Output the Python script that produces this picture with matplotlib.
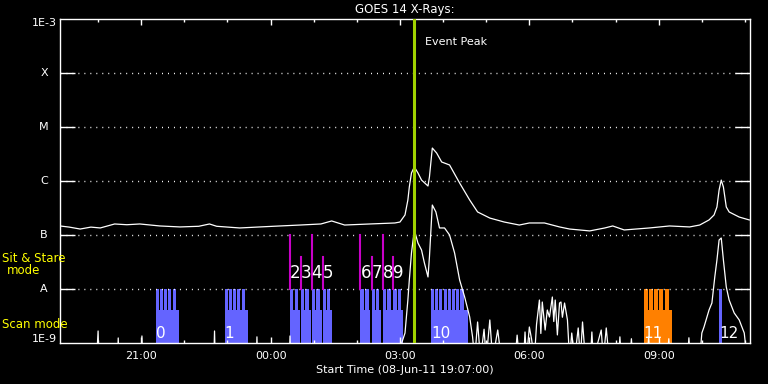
#!/usr/bin/env python3
"""GOES 14 X-ray light curve with IRIS-style raster markers."""
import matplotlib

matplotlib.use("Agg")
import matplotlib.dates as mdates
import matplotlib.pyplot as plt
import matplotlib.transforms as mtrans
import pandas as pd
from matplotlib.ticker import NullLocator

START = pd.Timestamp("2011-06-08 19:07")
END = pd.Timestamp("2011-06-09 11:07")
EVENT_PEAK = "03:20"

# GOES long channel (1-8 A), W/m^2
long_times = ["19:07", "19:20", "19:35", "19:50", "20:03", "20:23", "20:40", "20:58",
              "21:26", "21:54", "22:20", "22:35", "22:45", "23:17", "23:45", "00:13",
              "00:41", "01:10", "01:25", "01:43", "02:18", "02:53", "03:00", "03:07",
              "03:11", "03:13", "03:16", "03:20", "03:25", "03:30", "03:39", "03:41",
              "03:45", "03:51", "03:58", "04:09", "04:23", "04:37", "04:48", "05:05",
              "05:25", "05:46", "06:00", "06:21", "06:42", "06:56", "07:24", "07:45",
              "07:56", "08:12", "08:47", "09:15", "09:43", "09:57", "10:10", "10:17",
              "10:21", "10:24", "10:27", "10:30", "10:34", "10:38", "10:52", "11:06"]
long_flux = [1.47e-7, 1.40e-7, 1.29e-7, 1.40e-7, 1.35e-7, 1.60e-7, 1.55e-7, 1.60e-7,
             1.47e-7, 1.41e-7, 1.45e-7, 1.60e-7, 1.45e-7, 1.35e-7, 1.41e-7, 1.47e-7,
             1.53e-7, 1.60e-7, 1.82e-7, 1.53e-7, 1.60e-7, 1.67e-7, 1.74e-7, 2.35e-7,
             4.45e-7, 7.74e-7, 1.41e-6, 1.82e-6, 1.41e-6, 1.04e-6, 8.08e-7, 1.19e-6,
             4.08e-6, 3.30e-6, 2.25e-6, 1.98e-6, 9.18e-7, 4.45e-7, 2.67e-7, 2.06e-7,
             1.74e-7, 1.53e-7, 1.67e-7, 1.67e-7, 1.41e-7, 1.29e-7, 1.19e-7, 1.35e-7,
             1.47e-7, 1.24e-7, 1.35e-7, 1.47e-7, 1.41e-7, 1.53e-7, 1.90e-7, 2.35e-7,
             3.30e-7, 6.81e-7, 1.04e-6, 7.74e-7, 3.30e-7, 2.67e-7, 2.15e-7, 1.90e-7]

# GOES short channel (0.5-4 A), W/m^2 (values below 1E-9 sit under the axis)
short_times = ["19:07", "19:58", "20:00", "20:01", "20:27", "20:28", "20:29", "21:00",
               "21:01", "21:02", "22:41", "22:42", "22:43", "23:40", "23:41", "23:42",
               "00:26", "00:27", "00:28", "02:53", "03:00", "03:07", "03:11", "03:13",
               "03:16", "03:20", "03:25", "03:30", "03:34", "03:39", "03:41", "03:45",
               "03:50", "03:55", "04:02", "04:09", "04:16", "04:23", "04:30", "04:37",
               "04:41", "04:44", "04:48", "04:52", "04:57", "05:00", "05:05", "05:09",
               "05:16", "05:21", "05:40", "05:43", "05:46", "05:52", "05:54", "05:56",
               "06:00", "06:03", "06:07", "06:10", "06:14", "06:16", "06:18", "06:22",
               "06:25", "06:28", "06:32", "06:34", "06:36", "06:39", "06:42", "06:44",
               "06:46", "06:49", "06:53", "06:56", "06:59", "07:03", "07:08", "07:11",
               "07:14", "07:18", "07:25", "07:27", "07:29", "07:40", "07:43", "07:47",
               "07:51", "08:04", "08:06", "08:08", "08:20", "08:22", "08:24", "08:44",
               "08:46", "08:48", "09:12", "09:14", "09:16", "09:40", "09:42", "09:44",
               "09:57", "10:00", "10:03", "10:10", "10:14", "10:18", "10:21", "10:24",
               "10:27", "10:30", "10:34", "10:38", "10:45", "10:52", "10:59", "11:03",
               "11:06"]
short_flux = [5e-10, 5e-10, 1.67e-9, 5e-10, 5e-10, 1.24e-9, 5e-10, 5e-10,
              1.35e-9, 5e-10, 5e-10, 1.67e-9, 5e-10, 5e-10, 1.30e-9, 5e-10,
              5e-10, 1.35e-9, 5e-10, 5e-10, 8e-10, 1.53e-9, 6.25e-9, 1.47e-8,
              4.64e-8, 1.24e-7, 7.11e-8, 5.27e-8, 3.03e-8, 1.67e-8, 3.91e-8, 3.59e-7,
              2.67e-7, 1.35e-7, 1.35e-7, 1.00e-7, 4.64e-8, 1.47e-8, 7.11e-9, 3.03e-9,
              1.30e-9, 5e-10, 2.45e-9, 5e-10, 1.80e-9, 5e-10, 2.67e-9, 5e-10,
              1.74e-9, 5e-10, 5e-10, 1.40e-9, 5e-10, 5e-10, 1.60e-9, 5e-10,
              1.98e-9, 1.20e-9, 5e-10, 2.20e-9, 6.25e-9, 1.50e-9, 5.74e-9, 1.74e-9,
              4.08e-9, 3.03e-9, 7.11e-9, 2.50e-9, 6.25e-9, 1.41e-9, 5.50e-9, 5.74e-9,
              3.00e-9, 5.50e-9, 2.67e-9, 5e-10, 1.53e-9, 5e-10, 1.90e-9, 5e-10,
              2.45e-9, 5e-10, 5e-10, 1.60e-9, 5e-10, 1.74e-9, 5e-10, 1.90e-9,
              5e-10, 5e-10, 1.30e-9, 5e-10, 5e-10, 1.20e-9, 5e-10, 5e-10,
              1.30e-9, 5e-10, 5e-10, 1.20e-9, 5e-10, 5e-10, 1.25e-9, 5e-10,
              5e-10, 1.53e-9, 1.98e-9, 4.08e-9, 5.50e-9, 1.67e-8, 3.44e-8, 8.08e-8,
              8.80e-8, 3.44e-8, 1.09e-8, 6.25e-9, 3.60e-9, 2.67e-9, 1.53e-9, 5e-10,
              5e-10]

# raster observations
raster_label = ["0", "1", "2", "3", "4", "5", "6", "7", "8", "9", "10", "11", "12"]
raster_start = ["21:20", "22:56", "00:27", "00:42", "00:57", "01:13", "02:05", "02:21",
                "02:36", "02:51", "03:43", "08:39", "10:24"]
raster_end = ["21:52", "23:28", "00:41", "00:56", "01:11", "01:25", "02:19", "02:34",
              "02:50", "03:04", "04:34", "09:19", "10:28"]
raster_steps = [5, 5, 2, 2, 2, 2, 2, 2, 2, 2, 8, 5, 1]
raster_color = ["#6464ff"] * 11 + ["#ff8000", "#6464ff"]
# sit & stare marker top (None = scan mode)
sit_top = [None, None, 1e-7, 3.9e-8, 1e-7, 3.9e-8, 1e-7, 3.9e-8, 1e-7, 3.9e-8,
           None, None, None]

goes_levels = [1e-9, 1e-8, 1e-7, 1e-6, 1e-5, 1e-4, 1e-3]
goes_names = ["1E-9", "A", "B", "C", "M", "X", "1E-3"]


def to_num(hhmm):
    t = pd.Timestamp(f"2011-06-08 {hhmm}")
    if t.hour < 19:
        t += pd.Timedelta(days=1)
    return mdates.date2num(t.to_pydatetime())


def main():
    fig = plt.figure(figsize=(7.68, 3.84), dpi=100, facecolor="black")
    ax = fig.add_axes([60 / 768, 41 / 384, 690 / 768, 324 / 384], facecolor="black")
    ax.set_yscale("log")
    ax.set_ylim(1e-9, 1e-3)
    ax.set_xlim(mdates.date2num(START.to_pydatetime()), mdates.date2num(END.to_pydatetime()))

    base_top, stripe_top = 4.08e-9, 1e-8
    for lab, s, e, n, col, top in zip(raster_label, raster_start, raster_end,
                                      raster_steps, raster_color, sit_top):
        x0, x1 = to_num(s), to_num(e)
        w = x1 - x0
        ax.bar(x0, base_top - 1e-9, width=w, bottom=1e-9, align="edge", color=col, lw=0)
        cell = w * (0.92 if n > 1 else 1.0) / n
        for k in range(n):
            ax.bar(x0 + k * cell, stripe_top - 1e-9, width=cell * (0.75 if n > 1 else 1.0),
                   bottom=1e-9, align="edge", color=col, lw=0)
        if top is None:
            ax.text(x0, 1.24e-9, lab, color="white", fontsize=11, ha="left", va="baseline",
                    zorder=6)
        else:
            ax.plot([x0, x0], [1e-8, top], color="#c800c8", lw=1.5, zorder=3)
            ax.text(x0, 1.6e-8, lab, color="white", fontsize=12, ha="left", va="baseline",
                    zorder=6)

    for lev in goes_levels[1:-1]:
        ax.axhline(lev, color="white", lw=1.0, dashes=(0.7, 3.6), zorder=1)

    ax.plot([to_num(t) for t in long_times], long_flux, color="white", lw=0.9, zorder=4)
    ax.plot([to_num(t) for t in short_times], short_flux, color="white", lw=0.9, zorder=4)

    peak = to_num(EVENT_PEAK)
    ax.axvline(peak, color="#a0d200", lw=2.2, zorder=5)
    ax.annotate("Event Peak", xy=(peak, 0.9275), xycoords=("data", "axes fraction"),
                xytext=(7.5, 0), textcoords="offset points", color="white",
                fontsize=8, ha="left", va="center")

    for sp in ax.spines.values():
        sp.set_color("white")
        sp.set_linewidth(1.0)

    ax.xaxis.set_major_locator(mdates.HourLocator(byhour=[0, 3, 6, 9, 12, 15, 18, 21]))
    ax.xaxis.set_minor_locator(mdates.HourLocator())
    ax.xaxis.set_major_formatter(mdates.DateFormatter("%H:%M"))
    ax.tick_params(axis="x", which="major", direction="in", length=4.3, width=1,
                   top=True, bottom=True, colors="white", labelsize=8, pad=5.5)
    ax.tick_params(axis="x", which="minor", direction="in", length=2.2, width=1,
                   top=True, bottom=True, colors="white")

    ax.set_yticks(goes_levels[1:-1])
    ax.yaxis.set_minor_locator(NullLocator())
    ax.tick_params(axis="y", which="major", direction="in", length=10.5, width=1,
                   left=True, right=True, colors="white", labelleft=False)

    tr = mtrans.blended_transform_factory(ax.transAxes, ax.transData)
    for lev, name in zip(goes_levels, goes_names):
        if name.startswith("1E"):
            yy = lev * (0.85 if lev > 1e-6 else 1.2)
            ax.text(-0.004, yy, name, transform=tr, color="white", fontsize=8,
                    ha="right", va="center")
        else:
            ax.text(-0.023, lev, name, transform=tr, color="white", fontsize=8,
                    ha="center", va="center")

    ax.set_title("GOES 14 X-Rays:", color="white", fontsize=8.5, pad=4)
    ax.set_xlabel("Start Time (08-Jun-11 19:07:00)", color="white", fontsize=8, labelpad=3)

    fig.text(2 / 768, 1 - 259 / 384, "Sit & Stare", color="yellow", fontsize=8.5,
             ha="left", va="center")
    fig.text(24 / 768, 1 - 271 / 384, "mode", color="yellow", fontsize=8.5,
             ha="center", va="center")
    fig.text(2 / 768, 1 - 324 / 384, "Scan mode", color="yellow", fontsize=8.5,
             ha="left", va="center")

    fig.savefig("out.png", dpi=100, facecolor="black")
    plt.close(fig)


if __name__ == "__main__":
    main()
